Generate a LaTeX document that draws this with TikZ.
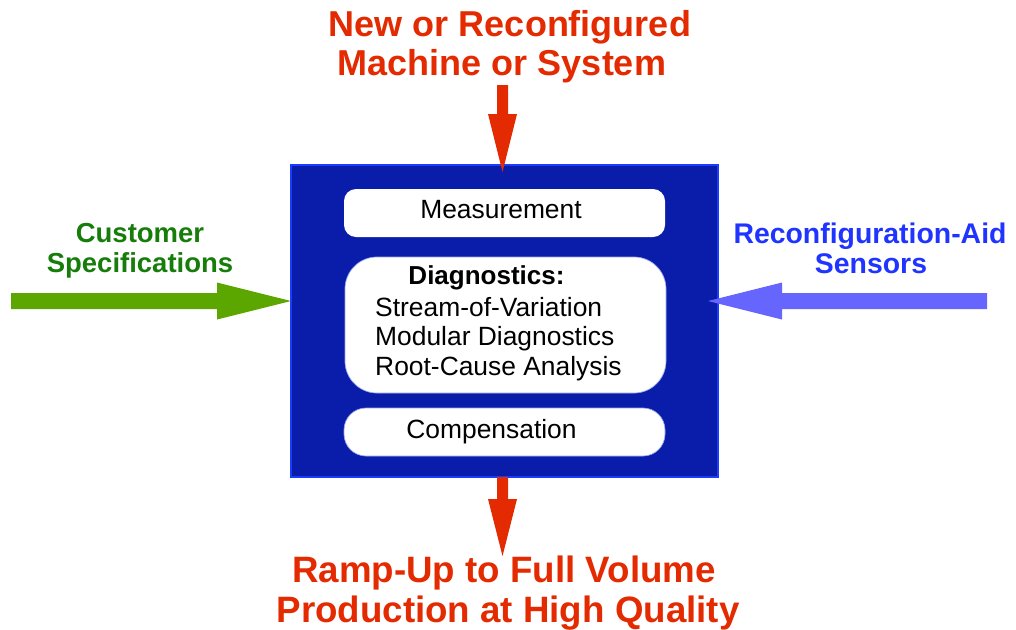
\documentclass[tikz,border=0pt]{standalone}
\usepackage{fontspec}
\setmainfont{Liberation Sans}
\usetikzlibrary{calc}
\definecolor{tred}{RGB}{228,42,0}
\definecolor{tgreen}{RGB}{22,125,10}
\definecolor{agreen}{RGB}{92,166,0}
\definecolor{tblue}{RGB}{32,52,255}
\definecolor{ablue}{RGB}{102,102,255}
\definecolor{boxfill}{RGB}{10,28,170}
\definecolor{boxline}{RGB}{26,60,255}
\definecolor{pillline}{RGB}{150,165,235}
\tikzset{
  title/.style={anchor=base,inner sep=0pt,text=tred,font=\fontsize{36}{40}\selectfont\bfseries},
  bottitle/.style={anchor=base,inner sep=0pt,text=tred,font=\fontsize{36.7}{41}\selectfont\bfseries},
  side/.style={anchor=base,inner sep=0pt,font=\fontsize{27.5}{31}\selectfont\bfseries},
  sideb/.style={anchor=base,inner sep=0pt,font=\fontsize{28.4}{31}\selectfont\bfseries},
  inner/.style={inner sep=0pt,font=\fontsize{26.4}{29}\selectfont},
  pill/.style={draw=none,fill=white,minimum width=321pt,inner sep=0pt},
}
\begin{document}
\begin{tikzpicture}[x=1pt,y=-1pt]
\useasboundingbox (0,0) rectangle (1016,629);
% main box
\node[draw=boxline,line width=2pt,fill=boxfill,minimum width=427pt,minimum height=312pt,inner sep=0pt] (main) at (504.5,321) {};
% inner boxes
\node[pill,minimum height=48pt,rounded corners=12pt] (meas) at (504.5,213) {};
\node[pill,draw=pillline,line width=0.7pt,minimum height=136pt,rounded corners=32pt] (diag) at (505.5,325) {};
\node[pill,draw=pillline,line width=0.7pt,minimum height=48pt,rounded corners=22pt] (comp) at (504.5,432) {};
\node[inner,anchor=base] (meast) at (501,218) {Measurement};
\node[inner,anchor=base] (compt) at (491.5,438) {Compensation};
\node[inner,anchor=base,font=\fontsize{26}{29}\selectfont\bfseries] (diagt) at (486.5,284) {Diagnostics:};
\node[inner,anchor=base west] (d1) at (375,316) {Stream-of-Variation};
\node[inner,anchor=base west] (d2) at (375,345.5) {Modular Diagnostics};
\node[inner,anchor=base west] (d3) at (375,375) {Root-Cause Analysis};
% titles
\node[title] (top1) at (510,36) {New or Reconfigured};
\node[title] (top2) at (502,75) {Machine or System};
\node[bottitle] (bot1) at (504,582) {Ramp-Up to Full Volume};
\node[bottitle] (bot2) at (508,622) {Production at High Quality};
\node[side,text=tgreen] (cust1) at (140,242) {Customer};
\node[side,text=tgreen] (cust2) at (140,272) {Specifications};
\node[sideb,text=tblue] (sens1) at (870,243) {Reconfiguration-Aid};
\node[sideb,text=tblue] (sens2) at (871,273) {Sensors};
% arrows (block arrows as filled shapes between named points)
\coordinate (topS) at (502.5,85);
\coordinate (topE) at (502.5,172);
\coordinate (botS) at (502.5,477);
\coordinate (botE) at (502.5,556);
\coordinate (leftS) at (11,301);
\coordinate (leftE) at (291,301);
\coordinate (rightS) at (987,301);
\coordinate (rightE) at (708,301);
\fill[tred] ($(topS)+(-5.5,0)$) -- ($(topE)+(-5.5,-58)$) -- ($(topE)+(-14.5,-58)$) -- (topE)
  -- ($(topE)+(14.5,-58)$) -- ($(topE)+(5.5,-58)$) -- ($(topS)+(5.5,0)$) -- cycle;
\fill[tred] ($(botS)+(-5.5,0)$) -- ($(botE)+(-5.5,-57)$) -- ($(botE)+(-14.5,-57)$) -- (botE)
  -- ($(botE)+(14.5,-57)$) -- ($(botE)+(5.5,-57)$) -- ($(botS)+(5.5,0)$) -- cycle;
\fill[agreen] ($(leftS)+(0,-8)$) -- ($(leftE)+(-74,-8)$) -- ($(leftE)+(-74,-18.5)$) -- (leftE)
  -- ($(leftE)+(-74,18.5)$) -- ($(leftE)+(-74,8)$) -- ($(leftS)+(0,8)$) -- cycle;
\fill[ablue] ($(rightS)+(0,-8)$) -- ($(rightE)+(74,-8)$) -- ($(rightE)+(74,-18.5)$) -- (rightE)
  -- ($(rightE)+(74,18.5)$) -- ($(rightE)+(74,8)$) -- ($(rightS)+(0,8)$) -- cycle;
\end{tikzpicture}
\end{document}
